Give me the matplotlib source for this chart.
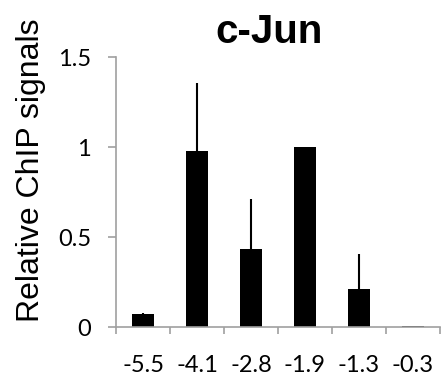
import matplotlib
matplotlib.use("Agg")
import matplotlib.pyplot as plt
import numpy as np

categories = ["-5.5", "-4.1", "-2.8", "-1.9", "-1.3", "-0.3"]
values = [0.074, 0.978, 0.433, 1.0, 0.21, 0.004]
errors = [0.005, 0.378, 0.277, 0.0, 0.194, 0.0]
yticks = [0, 0.5, 1, 1.5]
yticklabels = ["0", "0.5", "1", "1.5"]

plt.rcParams['font.family'] = ['Liberation Sans', 'DejaVu Sans']
fig = plt.figure(figsize=(4.43, 3.76), dpi=100)
ax = fig.add_axes([0.262, 0.130, 0.731, 0.718])
x = np.arange(len(categories))
ax.bar(x, values, width=0.4, color='black', zorder=2)
ax.errorbar(x, values, yerr=[np.zeros(len(errors)), errors], fmt='none',
            ecolor='black', elinewidth=1.5, capsize=0, zorder=3)
ax.set_xlim(-0.5, len(categories) - 0.5)
ax.set_ylim(0, 1.5)
ax.set_yticks(yticks)
ax.set_yticklabels(yticklabels, family=['Lato', 'DejaVu Sans'], fontsize=17)
ax.set_xticks(x)
ax.set_xticklabels(categories, family=['Lato', 'DejaVu Sans'], fontsize=17)
ax.set_xticks(np.arange(-0.5, len(categories)), minor=True)
ax.tick_params(axis='x', which='major', length=0, pad=20)
ax.tick_params(axis='x', which='minor', length=5, width=1.2, color='#a0a0a0', direction='out')
ax.tick_params(axis='y', length=6, width=1.2, color='#a0a0a0', direction='out', pad=12)
for s in ['top', 'right']:
    ax.spines[s].set_visible(False)
for s in ['left', 'bottom']:
    ax.spines[s].set_color('#a0a0a0')
    ax.spines[s].set_linewidth(1.2)
fig.text(31 / 443, 1 - 170.5 / 376, "Relative ChIP signals", fontsize=23,
         rotation=90, ha='center', va='center')
fig.text(269 / 443, 1 - 43 / 376, "c-Jun", fontsize=29, fontweight='bold',
         ha='center', va='baseline')
fig.savefig("out.png", dpi=100)
